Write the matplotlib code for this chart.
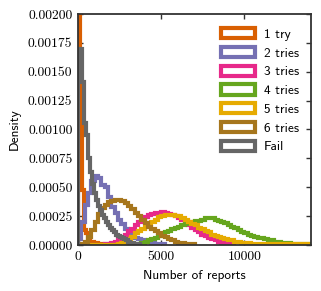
import matplotlib
matplotlib.use("Agg")
import matplotlib.pyplot as plt
import numpy as np

# bin starts / widths per series (densities)
w_fine = 120
w = 200

one_try = [0.0045, 0.00104, 0.00048, 0.00013, 0.0001, 0.00004, 0.00003, 0.00003,
           0.00002, 0.00002, 0.00001, 0.00001, 0.00001, 0.00001, 0.00001, 0.00001]

two_tries = [0.00005, 0.0002, 0.00035, 0.00045, 0.00055, 0.0006, 0.00058, 0.00052,
             0.0005, 0.00042, 0.00033, 0.00028, 0.00022, 0.00018, 0.00014, 0.00011,
             0.00009, 0.00006, 0.00005, 0.00004, 0.00003, 0.00003, 0.00002, 0.00001,
             0.00001, 0.00001]

three_tries = [0.0, 0.0, 0.0, 0.0, 0.0, 0.0, 0.0, 0.0, 0.00001, 0.00001,
               0.00002, 0.00003, 0.00005, 0.00007, 0.00009, 0.00012, 0.00014, 0.00017,
               0.0002, 0.00022, 0.00024, 0.00026, 0.00027, 0.00028, 0.00028, 0.00029,
               0.00028, 0.00027, 0.00026, 0.00025, 0.00023, 0.00022, 0.0002, 0.00017,
               0.00015, 0.00013, 0.00011, 0.00009, 0.00008, 0.00006, 0.00005, 0.00004,
               0.00003, 0.00002, 0.00002, 0.00001, 0.00001]

four_tries = [0.0] * 17 + [
    0.00001, 0.00001, 0.00002, 0.00003, 0.00004, 0.00005, 0.00006, 0.00008, 0.00009,
    0.00011, 0.00012, 0.00014, 0.00015, 0.00016, 0.00017, 0.00018, 0.00019, 0.0002,
    0.00021, 0.00021, 0.00022, 0.00023, 0.00023, 0.00023, 0.00022, 0.00021, 0.0002,
    0.00019, 0.00017, 0.00016, 0.00015, 0.00013, 0.00011, 0.0001, 0.00009, 0.00008,
    0.00007, 0.00006, 0.00006, 0.00005, 0.00004, 0.00004, 0.00003, 0.00003, 0.00002,
    0.00002, 0.00002, 0.00001, 0.00001, 0.00001, 0.00001, 0.00001, 0.00001]

five_tries = [0.0] * 12 + [
    0.00001, 0.00002, 0.00003, 0.00005, 0.00007, 0.0001, 0.00012, 0.00014, 0.00016,
    0.00018, 0.0002, 0.00022, 0.00024, 0.00025, 0.00026, 0.00026, 0.00026, 0.00025,
    0.00025, 0.00023, 0.00022, 0.0002, 0.00018, 0.00017, 0.00015, 0.00014, 0.00012,
    0.00011, 0.00009, 0.00008, 0.00007, 0.00006, 0.00005, 0.00004, 0.00004, 0.00003,
    0.00003, 0.00002, 0.00002, 0.00002, 0.00001, 0.00001, 0.00001, 0.00001, 0.00001,
    0.000005, 0.000005, 0.000005, 0.000005, 0.000005, 0.000005, 0.000005, 0.000005,
    0.000005, 0.000005, 0.000005, 0.000005]

six_tries = [0.0, 0.00001, 0.00003, 0.00007, 0.00013, 0.0002, 0.00027, 0.00032,
             0.00035, 0.00037, 0.00038, 0.00039, 0.00039, 0.00038, 0.00036, 0.00034,
             0.00031, 0.00028, 0.00025, 0.00022, 0.00019, 0.00016, 0.00014, 0.00012,
             0.0001, 0.00008, 0.00007, 0.00005, 0.00004, 0.00003, 0.00002, 0.00002,
             0.00001, 0.00001, 0.00001]

fail = [0.0017, 0.0017, 0.00141, 0.00106, 0.00095, 0.00075, 0.00063, 0.00053,
        0.00045, 0.00039, 0.00034, 0.0003, 0.00026, 0.00023, 0.0002, 0.00017,
        0.00015, 0.00013, 0.00011, 0.00009, 0.00008, 0.00007, 0.00006, 0.00005,
        0.00004, 0.00003, 0.00002, 0.00002, 0.00001, 0.00001, 0.00001]

series = [
    ("1 try", one_try, w_fine, "#d95f02"),
    ("2 tries", two_tries, w, "#7570b3"),
    ("3 tries", three_tries, w, "#e7298a"),
    ("4 tries", four_tries, w, "#66a61e"),
    ("5 tries", five_tries, w, "#e6ab02"),
    ("6 tries", six_tries, w, "#a6761d"),
    ("Fail", fail, w_fine, "#666666"),
]

yticks = np.arange(0, 0.002001, 0.00025)
xticks = [0, 5000, 10000]

fig = plt.figure(figsize=(3.21, 2.91), dpi=100)
ax = fig.add_axes([0.243, 0.158, 0.726, 0.794])

for label, vals, width, color in series:
    edges = np.arange(len(vals) + 1) * width
    ax.hist(edges[:-1], bins=edges, weights=vals, histtype="step",
            color=color, linewidth=3, label=label)

ax.set_xlim(0, 14000)
ax.set_ylim(0, 0.002)
ax.set_yticks(yticks)
ax.set_xticks(xticks)
ax.set_yticklabels(["%.5f" % v for v in yticks], fontfamily="cmr10", fontsize=9.8)
ax.set_xticklabels([str(v) for v in xticks], fontfamily="cmr10", fontsize=9.8)
ax.tick_params(direction="in", top=True, right=True, length=3.5, width=1,
               color="#333333", pad=4)
for s in ax.spines.values():
    s.set_linewidth(1.3)
    s.set_color("#333333")

ax.set_xlabel("Number of reports", fontfamily="cmss10", fontsize=9.6, labelpad=5)
ax.set_ylabel("Density", fontfamily="cmss10", fontsize=9.6, labelpad=5)

ax.legend(loc="upper right", bbox_to_anchor=(1.0, 0.99), frameon=False,
          prop={"family": "cmss10", "size": 9.6},
          handlelength=2.5, handleheight=0.8, labelspacing=0.45, handletextpad=0.7,
          borderaxespad=0.5)

fig.savefig("out.png", dpi=100)
